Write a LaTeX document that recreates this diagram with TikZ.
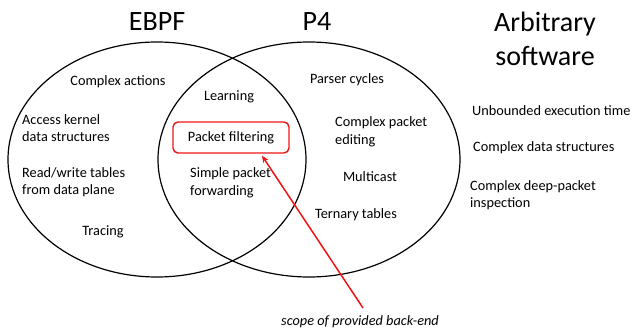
\documentclass[tikz,border=0pt]{standalone}
\usepackage{fontspec}
\setmainfont{Carlito}
\usetikzlibrary{arrows.meta}
\definecolor{scopered}{RGB}{240,20,20}
\tikzset{
  set/.style={draw=black, line width=1.2pt},
  item/.style={font=\fontsize{14.3}{17.5}\selectfont, inner sep=0pt, align=left},
  title/.style={font=\fontsize{28}{34}\selectfont, inner sep=0pt, align=center},
  scopebox/.style={draw=scopered, line width=1.4pt, rounded corners=5pt,
    minimum width=116pt, minimum height=31pt, inner sep=0pt,
    font=\fontsize{14.3}{17.5}\selectfont},
  pointer/.style={draw=scopered, line width=1.5pt, -{Stealth[length=7pt,width=6pt]}}
}
\begin{document}
\begin{tikzpicture}[x=1pt, y=-1pt]
  \useasboundingbox (0,0) rectangle (634,331);

  % the two overlapping sets
  \draw[set] (157,159.5) ellipse [x radius=149pt, y radius=117.5pt];
  \draw[set] (309,159.5) ellipse [x radius=151pt, y radius=117.5pt];

  % headings
  \node[title] (ebpf) at (157,22) {EBPF};
  \node[title] (p4) at (317,22) {P4};
  \node[title] (arb) at (545,39) {Arbitrary\\software};

  % EBPF only
  \node[item] (cact) at (118,82) {Complex actions};
  \node[item, anchor=west] (akds) at (22,128) {Access kernel\\data structures};
  \node[item, anchor=west] (rwt) at (22,182) {Read/write tables\\from data plane};
  \node[item] (trc) at (103,232) {Tracing};

  % shared
  \node[item] (lrn) at (229,97) {Learning};
  \node[scopebox] (pf) at (231,137.5) {Packet filtering};
  \node[item, anchor=west] (spf) at (190,183) {Simple packet\\forwarding};

  % P4 only
  \node[item] (pcy) at (347,80) {Parser cycles};
  \node[item, anchor=west] (cpe) at (335,132) {Complex packet\\editing};
  \node[item] (mc) at (370,177) {Multicast};
  \node[item] (tt) at (356,215) {Ternary tables};

  % outside both sets
  \node[item, anchor=west] (ubt) at (472,111) {Unbounded execution time};
  \node[item, anchor=west] (cds) at (473,148) {Complex data structures};
  \node[item, anchor=west] (cdp) at (470,195) {Complex deep-packet\\inspection};

  % scope label and pointer
  \node[item, font=\fontsize{14.3}{17.5}\selectfont\itshape] (scope) at (360,322) {scope of provided back-end};
  \coordinate (tail) at (363,308);
  \draw[pointer] (tail) -- ([xshift=31pt, yshift=-2pt]pf.south);
\end{tikzpicture}
\end{document}
